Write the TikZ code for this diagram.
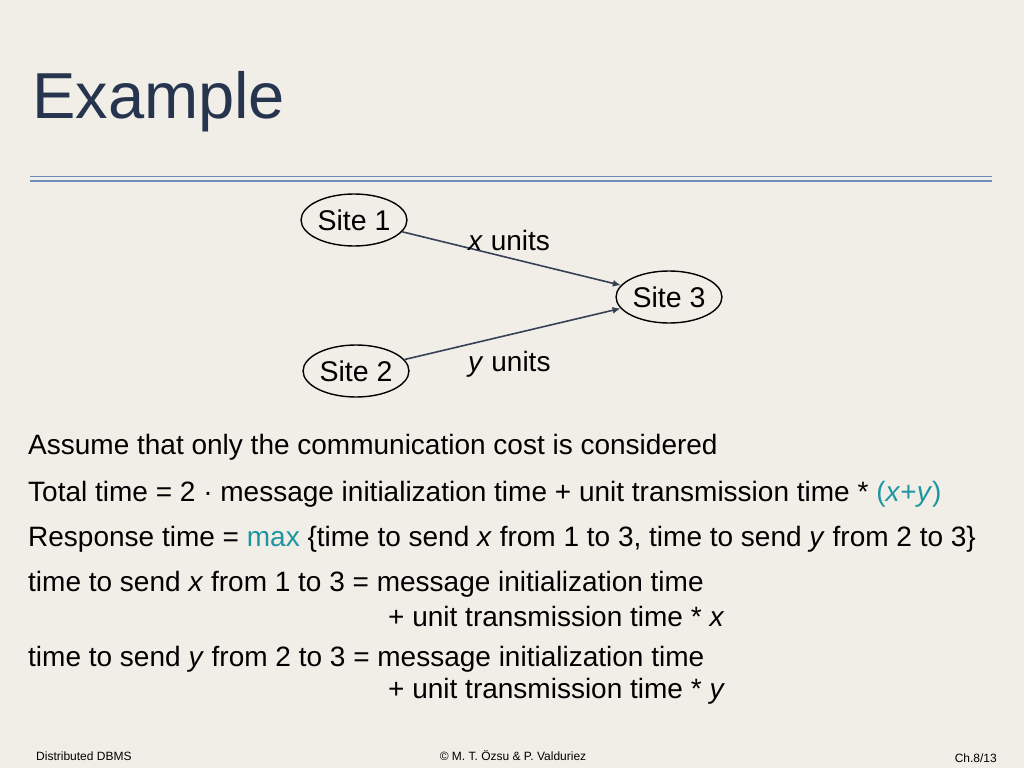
\documentclass[tikz,border=0pt]{standalone}
\usepackage{fontspec}
\setmainfont{Liberation Sans}
\definecolor{bg}{RGB}{241,238,232}
\definecolor{ttl}{RGB}{38,52,78}
\definecolor{rule}{RGB}{110,140,190}
\definecolor{teal}{RGB}{30,150,160}
\definecolor{edge}{RGB}{55,65,85}
\begin{document}
\begin{tikzpicture}[x=1pt,y=-1pt,
  site/.style={draw,line width=1.4pt,ellipse,inner sep=1pt,minimum width=98pt,minimum height=52pt,font=\fontsize{28.5}{32}\selectfont},
  body/.style={anchor=west,inner sep=0pt,font=\fontsize{28}{32}\selectfont},
  foot/.style={inner sep=0pt,font=\fontsize{12}{14}\selectfont},
  link/.style={draw=edge,line width=1.6pt,-{Latex[length=8pt,width=7pt]}}]
\usetikzlibrary{shapes.geometric,arrows.meta}
\fill[bg] (0,0) rectangle (1024,768);
\useasboundingbox (0,0) rectangle (1024,768);
\node[anchor=west,inner sep=0pt,text=ttl,font=\fontsize{65}{72}\selectfont] (title) at (32,102) {Example};
\draw[rule,line width=1.8pt] (30,176.5) -- (992,176.5);
\draw[rule,line width=1.8pt] (30,181) -- (992,181);
\node[site] (s1) at (354,220) {Site 1};
\node[site] (s3) at (669,297) {Site 3};
\node[site] (s2) at (356,371) {Site 2};
\draw[link] (s1) -- (s3);
\draw[link] (s2) -- (s3);
\node[body] (lx) at (468,240) {\textit{x} units};
\node[body] (ly) at (468,364) {\textit{y} units};
\node[body] (l1) at (28,447) {Assume that only the communication cost is considered};
\node[body] (l2) at (28,494) {Total time = 2 · message initialization time + unit transmission time * \textcolor{teal}{(\textit{x}+\textit{y})}};
\node[body] (l3) at (28,539) {Response time = \textcolor{teal}{max} \{time to send \textit{x} from 1 to 3, time to send \textit{y} from 2 to 3\}};
\node[body] (l4) at (28,584) {time to send \textit{x} from 1 to 3 = message initialization time};
\node[body] (l5) at (388,616) {+ unit transmission time * \textit{x}};
\node[body] (l6) at (28,659) {time to send \textit{y} from 2 to 3 = message initialization time};
\node[body] (l7) at (388,691) {+ unit transmission time * \textit{y}};
\node[foot,anchor=west] (f1) at (36,756) {Distributed DBMS};
\node[foot] (f2) at (513,756) {© M. T. Özsu \& P. Valduriez};
\node[foot,anchor=east] (f3) at (997,758) {Ch.8/13};
\end{tikzpicture}
\end{document}
